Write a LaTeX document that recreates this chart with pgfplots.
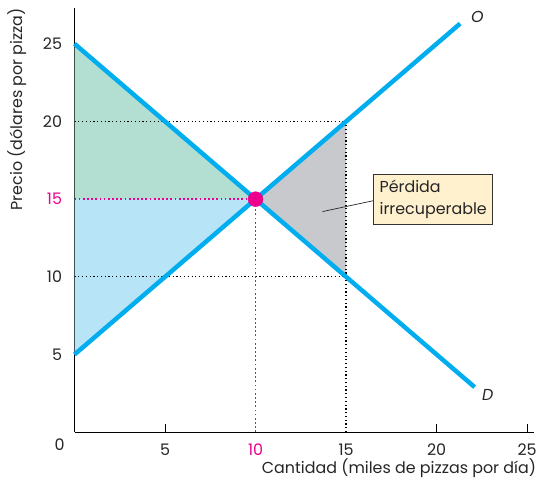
\documentclass[border=0pt]{standalone}
\usepackage{pgfplots}
\pgfplotsset{compat=1.18}
\usepackage{fontspec}
\setmainfont{Poppins}

\definecolor{curve}{RGB}{0,174,239}
\definecolor{eqpink}{RGB}{236,0,140}
\definecolor{csurplus}{RGB}{178,223,210}
\definecolor{psurplus}{RGB}{184,228,248}
\definecolor{dwl}{RGB}{200,201,204}
\definecolor{boxfill}{RGB}{255,240,206}

\begin{document}
\fontsize{16bp}{19bp}\selectfont
\begin{tikzpicture}
\begin{axis}[
    width=463bp, height=427bp,
    scale only axis,
    xmin=0, xmax=25.4,
    ymin=0, ymax=27.3,
    axis lines=left,
    axis line style={line width=0.8bp, -},
    xtick={5,20,25},
    extra x ticks={10,15},
    extra x tick labels={\textcolor{eqpink}{10},15},
    extra x tick style={grid=none, major tick length=0pt},
    ytick={5,10,15,20,25},
    yticklabels={5,10,\textcolor{eqpink}{15},20,25},
    x tick style={line width=0.8bp, black},
    major tick length=8bp,
    xtick align=inside,
    y tick style={draw=none},
    /pgf/number format/assume math mode=true,
    tick label style={font=\fontsize{16bp}{19bp}\selectfont, text=black!85},
    xticklabel style={yshift=-6bp},
    yticklabel style={xshift=-3bp},
    label style={font=\fontsize{16bp}{19bp}\selectfont, text=black!85},
    xlabel={Cantidad (miles de pizzas por día)},
    ylabel={Precio (dólares por pizza)},
    xlabel style={at={(axis description cs:1.004,-0.062)}, anchor=north east, inner sep=0pt},
    ylabel style={at={(axis description cs:-0.145,1)}, anchor=north east, inner sep=0pt},
    clip=false,
]
% areas
\addplot[fill=csurplus, draw=none] coordinates {(0,25) (10,15) (0,15)} -- cycle;
\addplot[fill=psurplus, draw=none] coordinates {(0,15) (10,15) (0,5)} -- cycle;
\addplot[fill=dwl, draw=none] coordinates {(10,15) (15,20) (15,10)} -- cycle;
% guide lines
\addplot[black, line width=1.2bp, dash pattern=on 1.2bp off 2.6bp] coordinates {(0,20) (15,20)};
\addplot[black, line width=1.2bp, dash pattern=on 1.2bp off 2.6bp] coordinates {(0,10) (15,10)};
\addplot[black, line width=1.2bp, dash pattern=on 1.2bp off 2.6bp] coordinates {(15,0) (15,20)};
\addplot[eqpink, line width=1.8bp, dash pattern=on 1.8bp off 2.4bp] coordinates {(0,15) (10,15)};
\addplot[eqpink, line width=1.8bp, dash pattern=on 1.8bp off 2.4bp] coordinates {(10,0) (10,15)};
% supply and demand
\addplot[curve, line width=4.5bp] coordinates {(0,5) (21.3,26.3)};
\addplot[curve, line width=4.5bp] coordinates {(0,25) (22.1,2.9)};
% equilibrium
\addplot[only marks, mark=*, mark size=7.5bp, eqpink] coordinates {(10,15)};
% labels
\node[anchor=west, inner sep=0pt, text=black!85, font=\itshape] at (axis cs:21.9,26.7) {O};
\node[anchor=west, inner sep=0pt, text=black!85, font=\itshape] at (axis cs:22.5,2.4) {D};
\draw[black!85, line width=0.7bp] (axis cs:13.7,14.2) -- (axis cs:16.5,14.9);
\node[anchor=west, draw=black!80, line width=0.8bp, fill=boxfill, align=left,
      text=black!85, inner xsep=6bp, inner ysep=6bp, font=\fontsize{16bp}{22bp}\selectfont]
      at (axis cs:16.5,15.0) {Pérdida\\irrecuperable};
\node[anchor=center, text=black!85, font=\fontsize{16bp}{19bp}\selectfont] at (axis cs:-0.82,-0.83) {0};
% page extent
\path (axis description cs:-0.162,1.019) (axis description cs:1.008,-0.12);
\end{axis}
\end{tikzpicture}
\end{document}
